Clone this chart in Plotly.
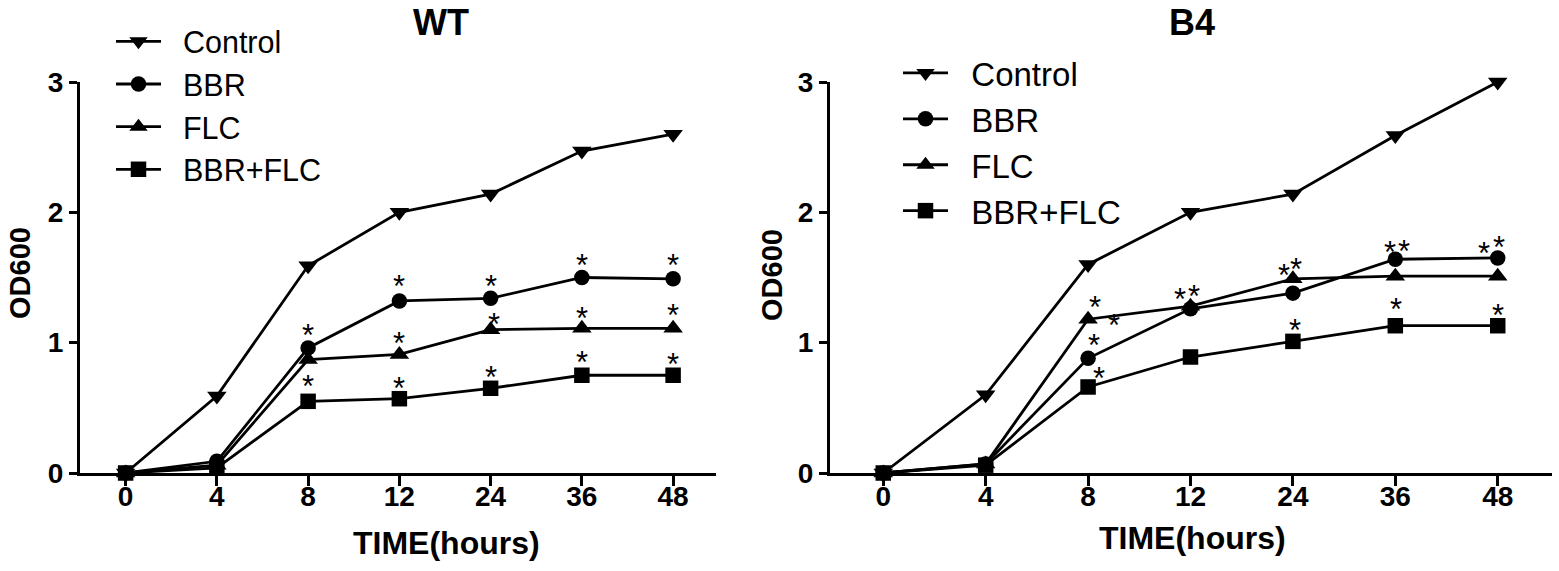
import plotly.graph_objects as go

# ---------------- data ----------------
time_labels = ["0", "4", "8", "12", "24", "36", "48"]
series_names = ["Control", "BBR", "FLC", "BBR+FLC"]

wt_control = [0.0, 0.59, 1.59, 2.00, 2.14, 2.47, 2.60]
wt_bbr     = [0.0, 0.09, 0.96, 1.32, 1.34, 1.50, 1.49]
wt_flc     = [0.0, 0.06, 0.87, 0.91, 1.10, 1.11, 1.11]
wt_combo   = [0.0, 0.04, 0.55, 0.57, 0.65, 0.75, 0.75]

b4_control = [0.0, 0.60, 1.60, 2.00, 2.14, 2.59, 3.00]
b4_bbr     = [0.0, 0.07, 0.88, 1.26, 1.38, 1.64, 1.65]
b4_flc     = [0.0, 0.07, 1.18, 1.28, 1.49, 1.51, 1.51]
b4_combo   = [0.0, 0.06, 0.66, 0.89, 1.01, 1.13, 1.13]

# significance asterisks (category index, OD600)
wt_star_x = [2, 3, 4, 5, 6, 3, 4.04, 5, 6, 2, 3, 4, 5, 6]
wt_star_y = [1.09, 1.47, 1.47, 1.63, 1.63, 1.03, 1.18, 1.22, 1.25, 0.70, 0.69, 0.77, 0.89, 0.87]

b4_star_x = [2.07, 2.25, 2.06, 2.11, 2.9, 3.03, 3.91, 4.03, 4.02, 4.95, 5.08, 5.01, 5.87, 6.01, 6.0]
b4_star_y = [1.31, 1.17, 1.02, 0.76, 1.37, 1.39, 1.55, 1.60, 1.13, 1.73, 1.74, 1.29, 1.72, 1.77, 1.25]

symbols = ["triangle-down", "circle", "triangle-up", "square"]

W, H = 1559, 571
FONT = "Liberation Sans, Arial, sans-serif"


def px(x):
    return x / W


def py(y):
    return 1 - y / H


fig = go.Figure()
xi = list(range(len(time_labels)))

for data, xa, ya, leg in [
    ([wt_control, wt_bbr, wt_flc, wt_combo], "x", "y", "legend"),
    ([b4_control, b4_bbr, b4_flc, b4_combo], "x2", "y2", "legend2"),
]:
    for name, vals, sym in zip(series_names, data, symbols):
        fig.add_trace(go.Scatter(
            x=xi, y=vals, name="\u00a0\u00a0" + name, mode="lines+markers",
            line=dict(color="black", width=2.8),
            marker=dict(symbol=sym, size=17 if "triangle" in sym else 15.5, color="black"),
            xaxis=xa, yaxis=ya, legend=leg, cliponaxis=False,
        ))

for sx, sy, xa, ya in [(wt_star_x, wt_star_y, "x", "y"), (b4_star_x, b4_star_y, "x2", "y2")]:
    for x, y in zip(sx, sy):
        fig.add_annotation(x=x, y=y, xref=xa, yref=ya, text="*", showarrow=False,
                           font=dict(family=FONT, size=31, color="black"),
                           yanchor="middle", xanchor="center", yshift=-5)

axis_common = dict(showline=True, linecolor="black", linewidth=3, ticks="outside",
                   tickwidth=3, tickcolor="black", showgrid=False, zeroline=False,
                   automargin=False)
tickfont = dict(family=FONT, size=28, color="black", weight="bold")

xdom1 = [px(80), px(716)]
xdom2 = [px(830), px(1552)]
ydom = [py(473), py(82)]

fig.update_layout(
    width=W, height=H,
    margin=dict(l=0, r=0, t=0, b=0),
    paper_bgcolor="white", plot_bgcolor="white",
    xaxis=dict(domain=xdom1, range=[-0.5, 6.47], tickvals=xi, ticktext=time_labels,
               ticklen=10, tickfont=tickfont, ticklabelstandoff=-14,
               anchor="y", **axis_common),
    yaxis=dict(domain=ydom, range=[0, 3], tickvals=[0, 1, 2, 3], ticklen=8,
               tickfont=tickfont, anchor="x", **axis_common),
    xaxis2=dict(domain=xdom2, range=[-0.52, 6.53], tickvals=xi, ticktext=time_labels,
                ticklen=10, tickfont=tickfont, ticklabelstandoff=-14,
                anchor="y2", **axis_common),
    yaxis2=dict(domain=ydom, range=[0, 3], tickvals=[0, 1, 2, 3], ticklen=8,
                tickfont=tickfont, anchor="x2", **axis_common),
    legend=dict(x=px(111), y=py(15), xanchor="left", yanchor="top",
                font=dict(family=FONT, size=30.5, color="black"),
                bgcolor="rgba(0,0,0,0)", tracegroupgap=0, itemwidth=45),
    legend2=dict(x=px(898), y=py(45), xanchor="left", yanchor="top",
                 font=dict(family=FONT, size=33, color="black"),
                 bgcolor="rgba(0,0,0,0)", tracegroupgap=0, itemwidth=45),
    showlegend=True,
)

# panel titles (anchored to the top edge)
for text, x in [("WT", 441), ("B4", 1192)]:
    fig.add_annotation(x=px(x), y=1, xref="paper", yref="paper", text=text,
                       showarrow=False, xanchor="center", yanchor="top",
                       font=dict(family=FONT, size=36, color="black", weight="bold"))

# axis titles
for text, x, y, size, ang in [
    ("TIME(hours)", 446, 543, 32, 0),
    ("TIME(hours)", 1192, 538, 32, 0),
    ("OD600", 20, 273, 29, -90),
    ("OD600", 772, 275, 29, -90),
]:
    fig.add_annotation(x=px(x), y=py(y), xref="paper", yref="paper", text=text,
                       showarrow=False, textangle=ang, xanchor="center", yanchor="middle",
                       font=dict(family=FONT, size=size, color="black", weight="bold"))

fig.write_html("out.html", config={"displayModeBar": False},
               post_script="document.body.style.margin='0px';")
